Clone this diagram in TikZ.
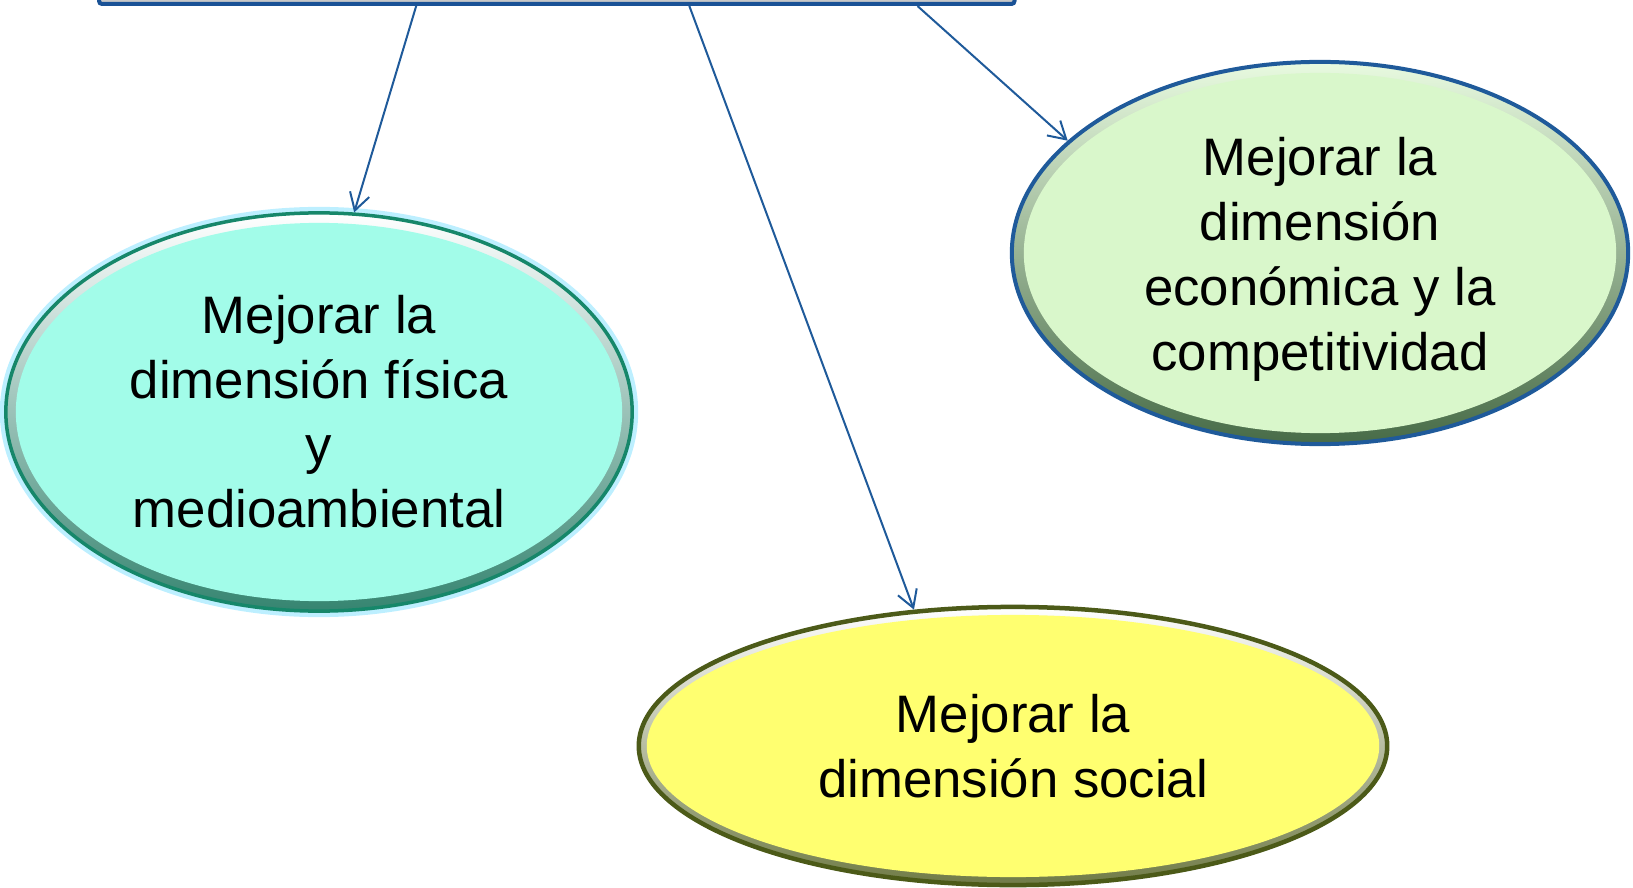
\documentclass[tikz,border=0pt]{standalone}
\usepackage{fontspec}
\setmainfont{Liberation Sans}
\usetikzlibrary{shapes.geometric,arrows.meta}
\definecolor{linkblue}{HTML}{1F5A9A}
\definecolor{boxgray}{HTML}{C8C8C8}
\definecolor{boxedge}{HTML}{1A5296}
\definecolor{cyanfill}{HTML}{A2FCE9}
\definecolor{cyanedge}{HTML}{16876A}
\definecolor{cyanglow}{HTML}{BDEFFF}
\definecolor{yelfill}{HTML}{FFFF70}
\definecolor{yeledge}{HTML}{4C5A18}
\definecolor{grnfill}{HTML}{D9F7CB}
\definecolor{grnedge}{HTML}{1F5A9A}
\begin{document}
\begin{tikzpicture}[x=0.01cm,y=-0.01cm,
  blob/.style={ellipse, inner sep=0pt, align=center,
    font=\fontsize{15pt}{18.4pt}\selectfont, text=black},
  link/.style={draw=linkblue, line width=0.02cm,
    -{Straight Barb[length=0.17cm,width=0.20cm]}},
]
\useasboundingbox (0,0) rectangle (1633,888);
\clip (0,0) rectangle (1633,888);

% top box (only its lower edge is visible)
\node[draw=boxedge, fill=boxgray, line width=0.04cm, rounded corners=0.03cm,
  minimum width=9.15cm, minimum height=0.8cm, inner sep=0pt, anchor=south west,
  outer sep=0pt] (top) at (99,4) {};
\coordinate (s1) at ([xshift=3.17cm,yshift=-0.02cm]top.south west);
\coordinate (s2) at ([xshift=5.90cm,yshift=-0.02cm]top.south west);
\coordinate (s3) at ([xshift=8.18cm,yshift=-0.02cm]top.south west);

% physical / environmental
\node[blob, minimum width=6.26cm, minimum height=3.98cm,
  preaction={draw=cyanglow, line width=0.12cm},
  draw=cyanedge, line width=0.035cm, fill=cyanfill,
  path picture={
    \shade[top color=white, bottom color=cyanedge!70!gray]
      (path picture bounding box.north west) rectangle (path picture bounding box.south east);
    \fill[cyanfill] (path picture bounding box.center) ellipse [x radius=3.03cm, y radius=1.89cm];
  }] (e1) at (319,412)
  {Mejorar la\\dimensión física\\y\\medioambiental};

% social
\node[blob, minimum width=7.48cm, minimum height=2.78cm,
  draw=yeledge, line width=0.045cm, fill=yelfill,
  path picture={
    \shade[top color=white, bottom color=yeledge!80]
      (path picture bounding box.north west) rectangle (path picture bounding box.south east);
    \fill[yelfill] (path picture bounding box.center) ellipse [x radius=3.66cm, y radius=1.31cm];
  }] (e2) at (1013,746)
  {Mejorar la\\dimensión social};

% economic
\node[blob, minimum width=6.16cm, minimum height=3.82cm,
  draw=grnedge, line width=0.04cm, fill=grnfill,
  path picture={
    \shade[top color=grnfill!60!white, bottom color=gray!80!green!70!black]
      (path picture bounding box.north west) rectangle (path picture bounding box.south east);
    \fill[grnfill] (path picture bounding box.center) ellipse [x radius=2.96cm, y radius=1.80cm];
  }] (e3) at (1320,253)
  {\raisebox{-0.07cm}[\height][\depth]{\begin{tabular}{@{}c@{}}Mejorar la\\dimensión\\económica y la\\competitividad\end{tabular}}};

% connectors
\draw[link] (s1) -- (e1.80);
\draw[link] (s2) -- (e2.126);
\draw[link] (s3) -- (e3.156);
\end{tikzpicture}
\end{document}
